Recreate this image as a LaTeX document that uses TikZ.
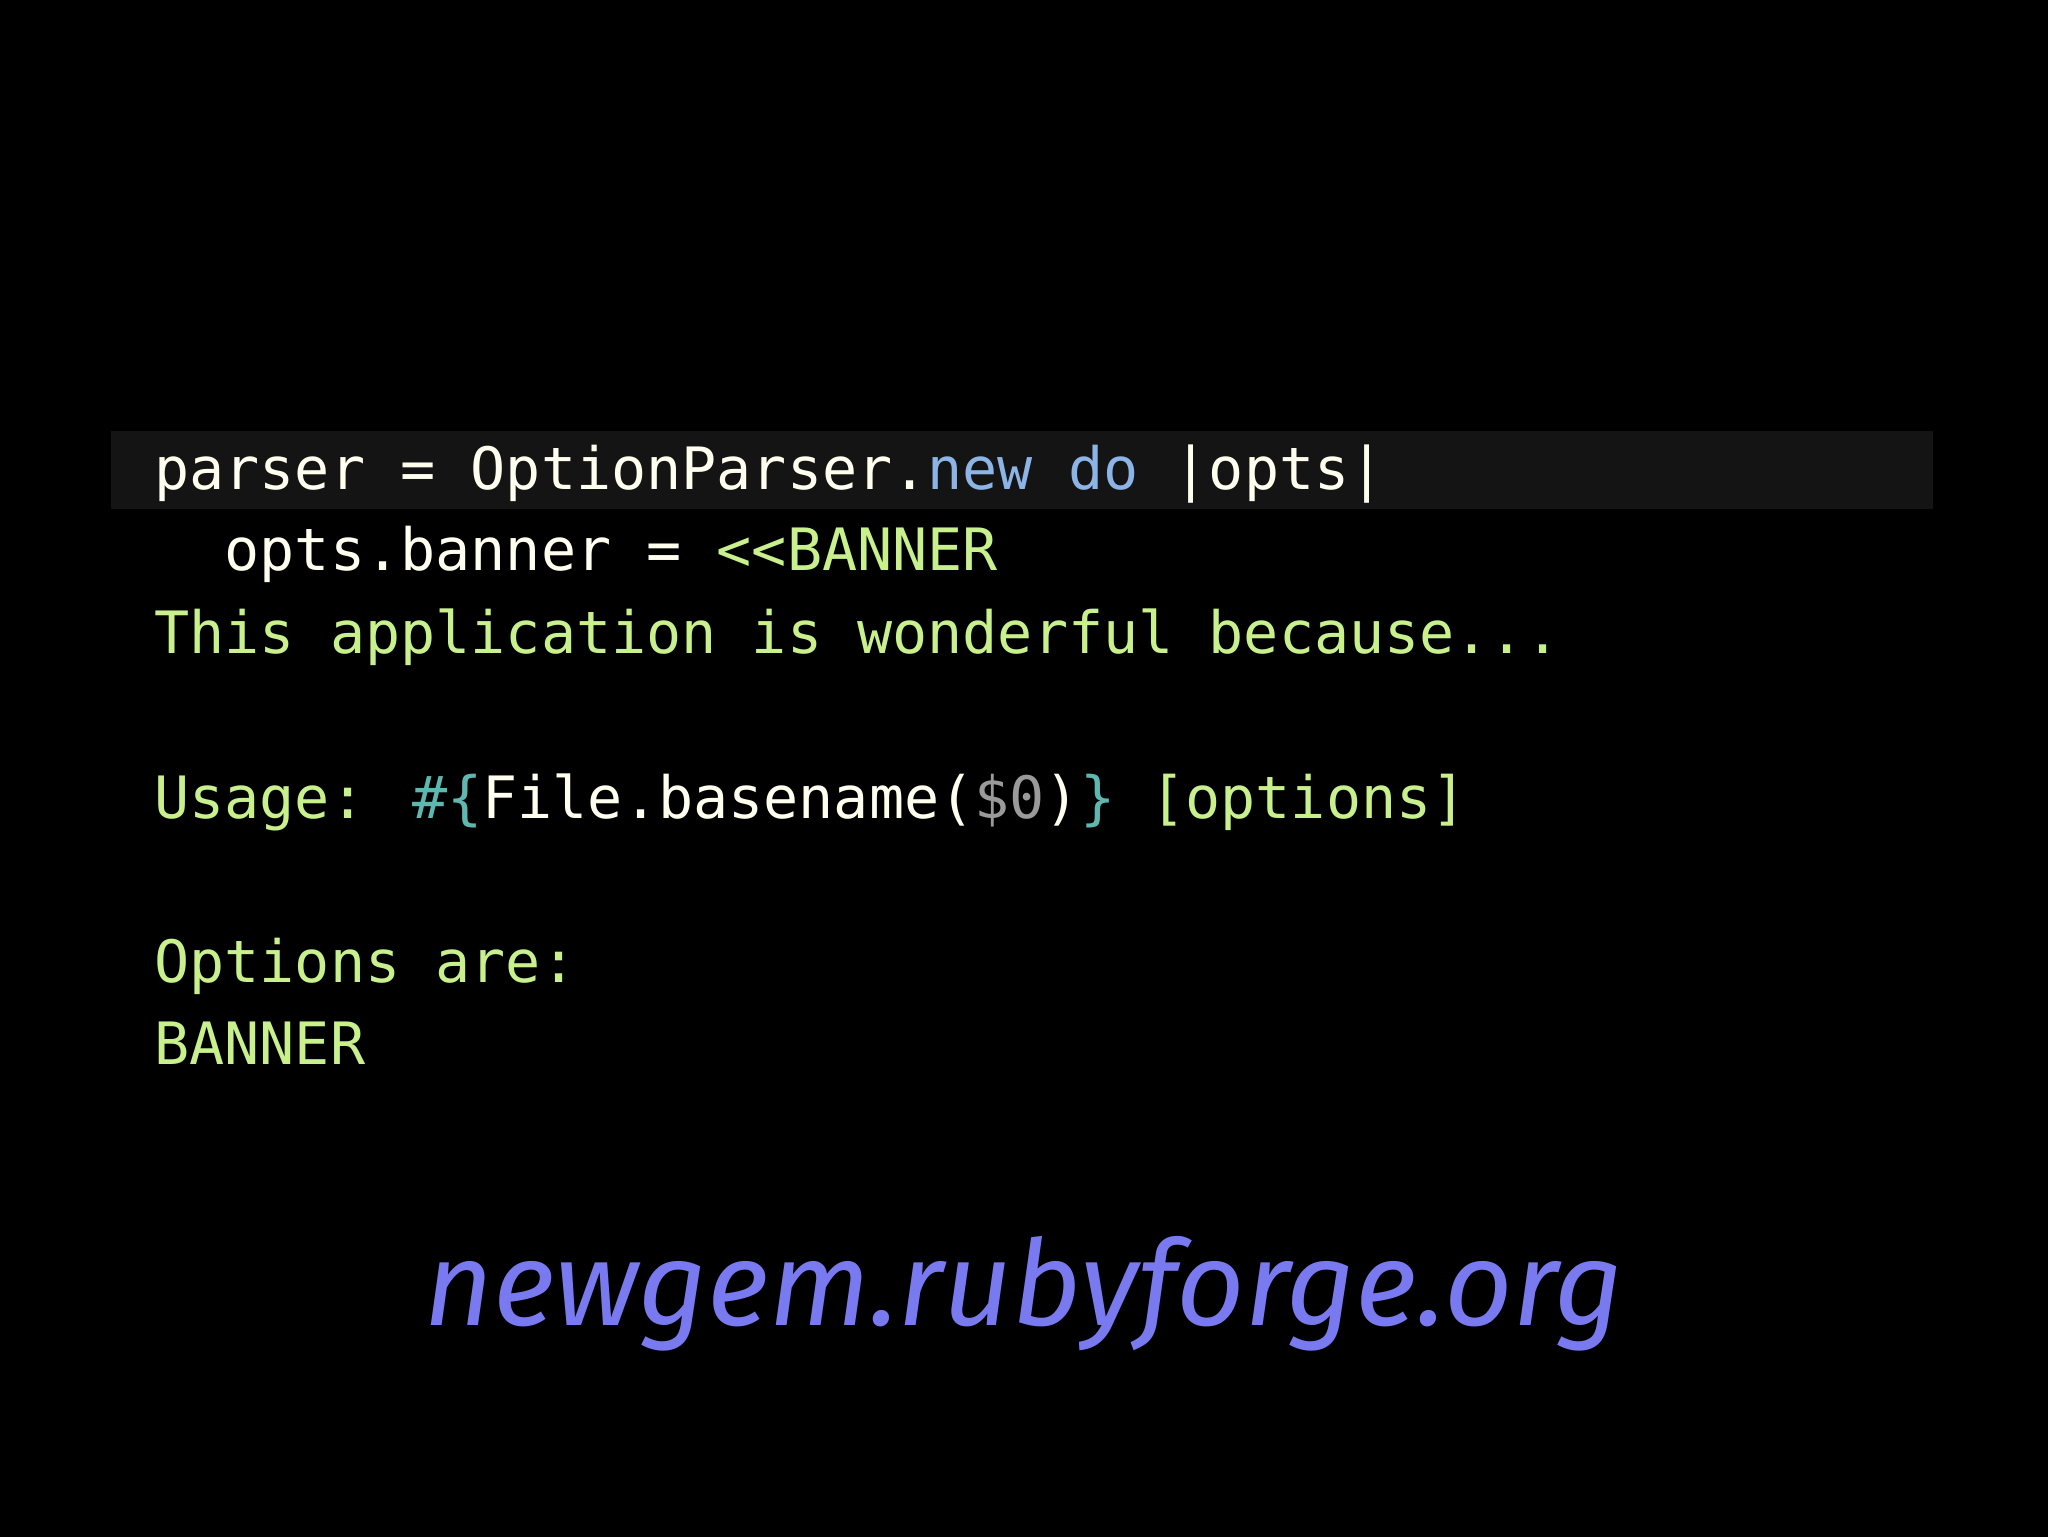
\documentclass[tikz,border=0pt]{standalone}
\usepackage{fontspec}
\newfontfamily\codefont[Ligatures=NoCommon]{DejaVu Sans Mono}
\newfontfamily\urlfont{Fira Sans}
\definecolor{wt}{HTML}{FFFFF0}
\definecolor{bl}{HTML}{8CB4E6}
\definecolor{gr}{HTML}{C8F08C}
\definecolor{tl}{HTML}{5FB8B0}
\definecolor{gy}{HTML}{9A9A9A}
\definecolor{ur}{HTML}{7A7AF0}
\definecolor{band}{HTML}{141414}
\begin{document}
\begin{tikzpicture}[x=1pt,y=1pt,
  code/.style={anchor=base west,inner sep=0pt,font=\codefont\fontsize{44.7}{50}\selectfont}]
\useasboundingbox (0,0) rectangle (1568,1176);
\fill[black] (-3,-3) rectangle (1571,1179);
\fill[band] (85,786) rectangle (1480,846);
\node[code] (l1) at (118,801) {\textcolor{wt}{parser = OptionParser.}\textcolor{bl}{new do }\textcolor{wt}{|opts|}};
\node[code] (l2) at (118,739) {\textcolor{wt}{\ \ opts.banner = }\textcolor{gr}{<{}<BANNER}};
\node[code] (l3) at (118,676) {\textcolor{gr}{This application is wonderful because...}};
\node[code] (l5) at (118,549) {\textcolor{gr}{Usage: }\textcolor{tl}{\#\{}\textcolor{wt}{File.basename(}\textcolor{gy}{\$0}\textcolor{wt}{)}\textcolor{tl}{\}}\textcolor{gr}{\ [options]}};
\node[code] (l7) at (118,424) {\textcolor{gr}{Options are:}};
\node[code] (l8) at (118,361) {\textcolor{gr}{BANNER}};
\node[anchor=base,inner sep=0pt,text=ur,font=\urlfont\itshape\fontsize{91}{100}\selectfont] (url) at (784,161) {newgem.rubyforge.org};
\end{tikzpicture}
\end{document}
